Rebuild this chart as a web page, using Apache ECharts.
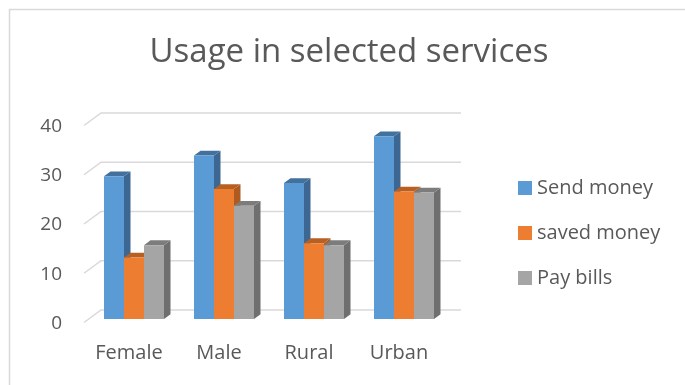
<!DOCTYPE html>
<html>
<head>
<meta charset="utf-8">
<script src="https://cdn.jsdelivr.net/npm/echarts@6/dist/echarts.min.js"></script>
<style>
html,body{margin:0;padding:0;background:#fff;}
#chart{width:685px;height:385px;}
</style>
</head>
<body>
<div id="chart"></div>
<script>
const categories = ['Female', 'Male', 'Rural', 'Urban'];
const sendMoney = [29, 33.2, 27.6, 37.1];
const savedMoney = [12.5, 26.4, 15.4, 25.9];
const payBills = [15, 23, 15, 25.7];
const seriesNames = ['Send money', 'saved money', 'Pay bills'];
const yTicks = [0, 10, 20, 30, 40];

const FONT = '"Open Sans", sans-serif';
const TXT = '#595959';
const faceColors = [
  { front: '#5B9BD5', top: '#41719C', side: '#3B6792' },
  { front: '#ED7D31', top: '#B85F22', side: '#AE5A20' },
  { front: '#A5A5A5', top: '#7C7C7C', side: '#6F6F6F' }
];
const DX = 6.5, DY = -4.8;

function barRenderer(si) {
  return function (params, api) {
    const cat = api.value(0), val = api.value(1);
    const base = api.coord([cat, 0]);
    const top = api.coord([cat, val]);
    const band = api.size([1, 0])[0];
    const bw = band * 2 / 9;
    const x0 = base[0] - 1.5 * bw + si * bw;
    const x1 = x0 + bw;
    const c = faceColors[si];
    return {
      type: 'group',
      children: [
        { type: 'polygon', shape: { points: [[x1, top[1]], [x1 + DX, top[1] + DY], [x1 + DX, base[1] + DY], [x1, base[1]]] }, style: { fill: c.side } },
        { type: 'polygon', shape: { points: [[x0, top[1]], [x0 + DX, top[1] + DY], [x1 + DX, top[1] + DY], [x1, top[1]]] }, style: { fill: c.top } },
        { type: 'rect', shape: { x: x0, y: top[1], width: bw, height: base[1] - top[1] }, style: { fill: c.front } }
      ]
    };
  };
}

function gridRenderer(params, api) {
  const cs = params.coordSys;
  const y = api.coord([0, api.value(1)])[1];
  const fx = cs.x - 5, fy = y + 3.5;
  const bx = cs.x + 12, by = y - 9;
  return {
    type: 'polyline',
    shape: { points: [[fx, fy], [bx, by], [cs.x + cs.width + 12, by]] },
    style: { stroke: '#D9D9D9', lineWidth: 1.5, fill: null }
  };
}

const valueSets = [sendMoney, savedMoney, payBills];
const barSeries = valueSets.map((vals, si) => ({
  name: seriesNames[si],
  type: 'custom',
  renderItem: barRenderer(si),
  itemStyle: { color: faceColors[si].front },
  encode: { x: 0, y: 1 },
  data: vals.map((v, i) => [i, v]),
  z: 3 + si
}));

const chart = echarts.init(document.getElementById('chart'), null, { renderer: 'canvas' });
chart.setOption({
  animation: false,
  backgroundColor: '#fff',
  graphic: [{
    type: 'rect', left: 7, top: 7,
    shape: { width: 720, height: 420 },
    style: { fill: null, stroke: '#D9D9D9', lineWidth: 1.5 },
    z: -10
  }],
  title: {
    text: 'Usage in selected services',
    left: 349, top: 33, padding: 0, textAlign: 'center',
    textStyle: { fontFamily: FONT, fontSize: 33, fontWeight: 'normal', color: TXT, lineHeight: 40 }
  },
  legend: {
    orient: 'vertical', left: 518, top: 178, padding: 0,
    data: seriesNames.map(n => ({ name: n, icon: 'rect' })),
    itemWidth: 14, itemHeight: 14, itemGap: 25,
    textStyle: { fontFamily: FONT, fontSize: 20, color: TXT, lineHeight: 20, padding: [0, 0, 0, 0] }
  },
  grid: { left: 89, right: 236, top: 122, bottom: 66 },
  xAxis: {
    type: 'category', data: categories,
    axisLine: { show: false }, axisTick: { show: false }, splitLine: { show: false },
    axisLabel: { fontFamily: FONT, fontSize: 20, color: TXT, margin: 24, padding: [0, 10, 0, 0] }
  },
  yAxis: {
    type: 'value', min: 0, max: 40, interval: 10,
    axisLine: { show: false }, axisTick: { show: false }, splitLine: { show: false },
    axisLabel: { fontFamily: FONT, fontSize: 19, color: TXT, margin: 27, verticalAlign: 'top', lineHeight: 9 }
  },
  series: [{
    name: 'grid', type: 'custom', renderItem: gridRenderer, silent: true,
    encode: { x: 0, y: 1 }, data: yTicks.map(v => [0, v]), z: 1
  }].concat(barSeries)
});
</script>
</body>
</html>
